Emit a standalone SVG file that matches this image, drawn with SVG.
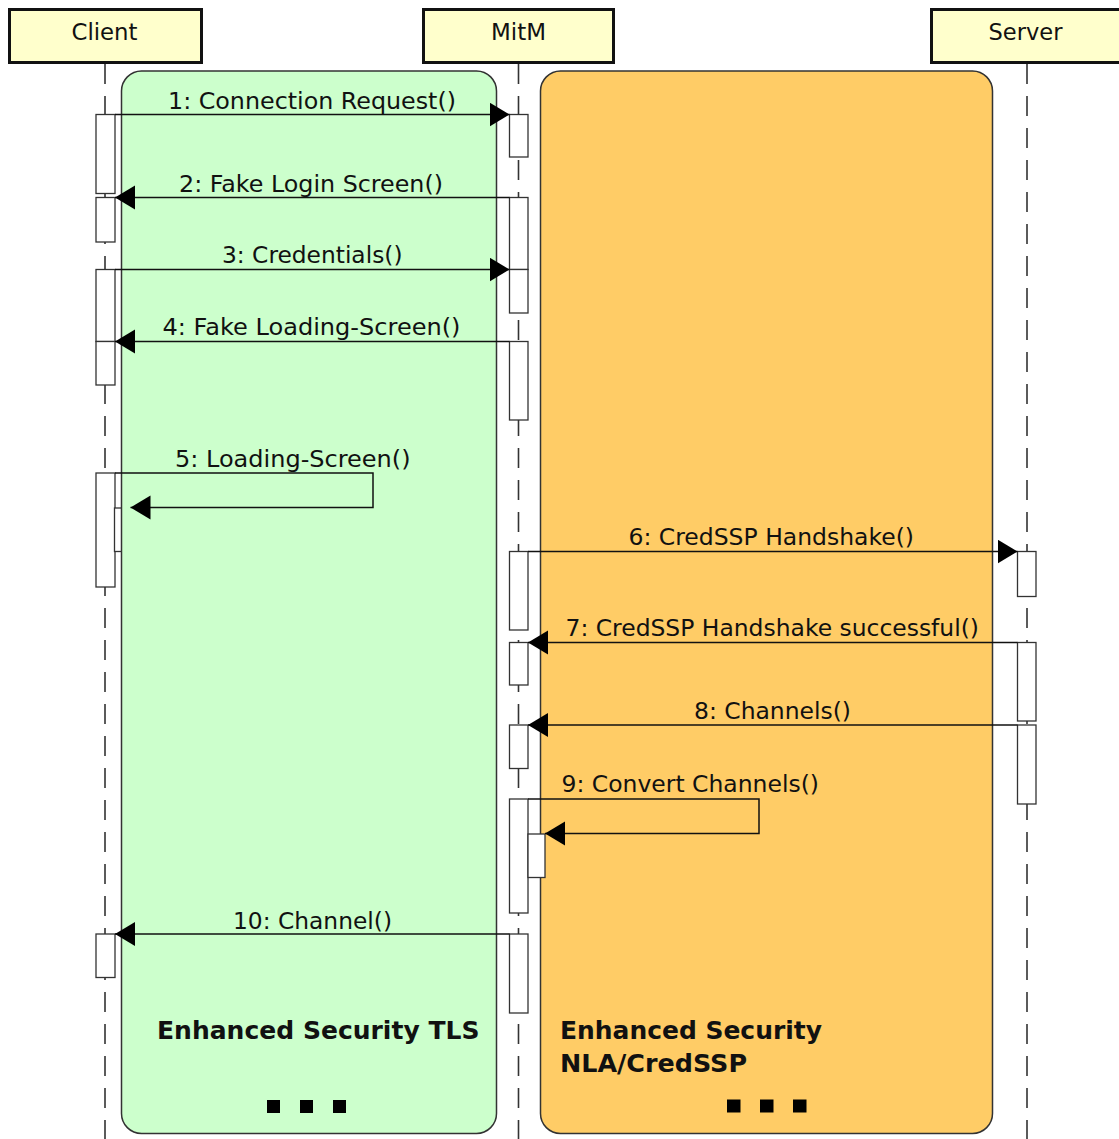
<svg xmlns="http://www.w3.org/2000/svg" width="1119" height="1139" viewBox="0 0 1119 1139">
  <defs>
    <marker id="arrow" markerUnits="userSpaceOnUse" markerWidth="21" markerHeight="25" refX="20" refY="12" orient="auto">
      <path d="M0,0 L20,12 L0,24 Z" fill="#000"/>
    </marker>
    <style>
      .life{stroke:#333;stroke-width:1.6;stroke-dasharray:20 12;fill:none}
      .head{fill:#FFFFCC;stroke:#111;stroke-width:3}
      .act{fill:#fff;stroke:#333;stroke-width:1.3}
      .msg{fill:none;stroke:#111;stroke-width:1.5;marker-end:url(#arrow)}
      .lbl{font-family:"DejaVu Sans","Liberation Sans",sans-serif;font-size:23px;fill:#111}
      .title{font-family:"DejaVu Sans","Liberation Sans",sans-serif;font-size:25px;font-weight:bold;fill:#111}
      .region{stroke:#333;stroke-width:1.5}
      .dot{fill:#000}
    </style>
  </defs>

  <rect width="1119" height="1139" fill="#fff"/>

  <!-- lifelines -->
  <g id="lifelines">
    <line class="life" x1="105" y1="64" x2="105" y2="1139"/>
    <line class="life" x1="518.5" y1="64" x2="518.5" y2="1139"/>
    <line class="life" x1="1027" y1="64" x2="1027" y2="1139"/>
  </g>

  <!-- participants -->
  <g id="client">
    <rect class="head" x="9.5" y="9.5" width="192" height="53"/>
    <text class="lbl" x="71.5" y="40" textLength="66" lengthAdjust="spacingAndGlyphs">Client</text>
  </g>
  <g id="mitm">
    <rect class="head" x="423.5" y="9.5" width="190" height="53"/>
    <text class="lbl" x="491" y="40" textLength="55" lengthAdjust="spacingAndGlyphs">MitM</text>
  </g>
  <g id="server">
    <rect class="head" x="931.5" y="9.5" width="195" height="53"/>
    <text class="lbl" x="988.5" y="40" textLength="74" lengthAdjust="spacingAndGlyphs">Server</text>
  </g>

  <!-- client activations -->
  <g id="client-activations">
    <rect class="act" x="96" y="114.5" width="19" height="79"/>
    <rect class="act" x="96" y="197.5" width="19" height="44.5"/>
    <rect class="act" x="96" y="269.5" width="19" height="72"/>
    <rect class="act" x="96" y="341.5" width="19" height="43.5"/>
    <rect class="act" x="96" y="473" width="19" height="114"/>
    <rect class="act" x="114.5" y="508" width="18.5" height="43.5"/>
    <rect class="act" x="96" y="934" width="19" height="43.5"/>
  </g>

  <!-- security regions -->
  <g id="tls-region">
    <rect class="region" x="121.5" y="71" width="375" height="1062.5" rx="20" ry="20" fill="#CCFFCC"/>
    <text class="title" x="157" y="1038.5" textLength="322.5" lengthAdjust="spacingAndGlyphs">Enhanced Security TLS</text>
    <rect class="dot" x="267" y="1100" width="13" height="13"/>
    <rect class="dot" x="300" y="1100" width="13" height="13"/>
    <rect class="dot" x="333" y="1100" width="13" height="13"/>
  </g>
  <g id="nla-region">
    <rect class="region" x="540.5" y="71" width="452" height="1062.5" rx="20" ry="20" fill="#FFCC66"/>
    <text class="title" x="560" y="1038.5" textLength="262" lengthAdjust="spacingAndGlyphs">Enhanced Security</text>
    <text class="title" x="560" y="1072" textLength="187" lengthAdjust="spacingAndGlyphs">NLA/CredSSP</text>
    <rect class="dot" x="727" y="1099.5" width="13.5" height="13"/>
    <rect class="dot" x="760" y="1099.5" width="13.5" height="13"/>
    <rect class="dot" x="793" y="1099.5" width="13.5" height="13"/>
  </g>

  <!-- mitm activations -->
  <g id="mitm-activations">
    <rect class="act" x="509.5" y="114.5" width="18.5" height="42.5"/>
    <rect class="act" x="509.5" y="197.5" width="18.5" height="72"/>
    <rect class="act" x="509.5" y="269.5" width="18.5" height="43.5"/>
    <rect class="act" x="509.5" y="341.5" width="18.5" height="78.5"/>
    <rect class="act" x="509.5" y="551.5" width="18.5" height="78.5"/>
    <rect class="act" x="509.5" y="642.5" width="18.5" height="42.5"/>
    <rect class="act" x="509.5" y="725" width="18.5" height="43.5"/>
    <rect class="act" x="509.5" y="799" width="18.5" height="114"/>
    <rect class="act" x="528" y="834" width="17" height="43.5"/>
    <rect class="act" x="509.5" y="934" width="18.5" height="79"/>
  </g>

  <!-- server activations -->
  <g id="server-activations">
    <rect class="act" x="1017.5" y="551.5" width="18.5" height="45"/>
    <rect class="act" x="1017.5" y="642.5" width="18.5" height="78.5"/>
    <rect class="act" x="1017.5" y="725" width="18.5" height="79"/>
  </g>

  <!-- messages -->
  <g id="connectors">
    <path class="msg" d="M115,114.5 H509.5"/>
    <path class="msg" d="M509.5,197.5 H115"/>
    <path class="msg" d="M115,269.5 H509.5"/>
    <path class="msg" d="M509.5,341.5 H115"/>
    <path class="msg" d="M115,473 H373 V507.5 H130.5"/>
    <path class="msg" d="M528,551.5 H1017.5"/>
    <path class="msg" d="M1017.5,642.5 H528"/>
    <path class="msg" d="M1017.5,725 H528"/>
    <path class="msg" d="M528,799 H759 V833.5 H545"/>
    <path class="msg" d="M509.5,934 H115"/>
  </g>

  <!-- message labels -->
  <g id="labels">
    <text class="lbl" x="168" y="109" textLength="288" lengthAdjust="spacingAndGlyphs">1: Connection Request()</text>
    <text class="lbl" x="179" y="192" textLength="264" lengthAdjust="spacingAndGlyphs">2: Fake Login Screen()</text>
    <text class="lbl" x="222" y="263" textLength="180.5" lengthAdjust="spacingAndGlyphs">3: Credentials()</text>
    <text class="lbl" x="162.5" y="334.5" textLength="298" lengthAdjust="spacingAndGlyphs">4: Fake Loading-Screen()</text>
    <text class="lbl" x="175" y="466.5" textLength="235.5" lengthAdjust="spacingAndGlyphs">5: Loading-Screen()</text>
    <text class="lbl" x="628.5" y="545" textLength="285.5" lengthAdjust="spacingAndGlyphs">6: CredSSP Handshake()</text>
    <text class="lbl" x="565.5" y="636" textLength="413.5" lengthAdjust="spacingAndGlyphs">7: CredSSP Handshake successful()</text>
    <text class="lbl" x="694" y="718.5" textLength="157" lengthAdjust="spacingAndGlyphs">8: Channels()</text>
    <text class="lbl" x="561.5" y="792" textLength="257.5" lengthAdjust="spacingAndGlyphs">9: Convert Channels()</text>
    <text class="lbl" x="233" y="928.5" textLength="159" lengthAdjust="spacingAndGlyphs">10: Channel()</text>
  </g>
</svg>
